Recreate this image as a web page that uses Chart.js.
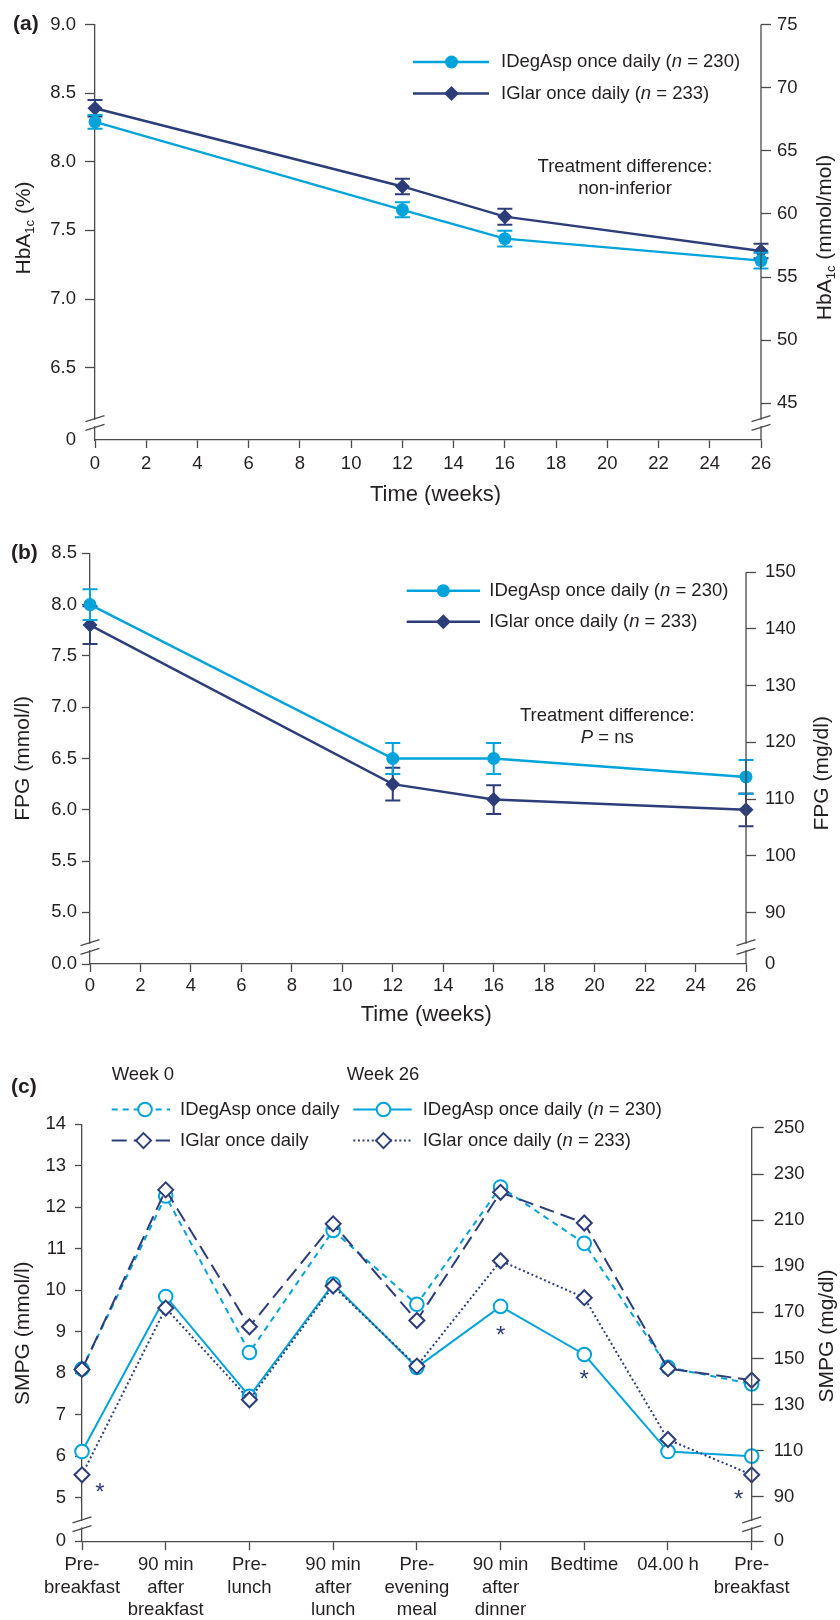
<!DOCTYPE html>
<html>
<head>
<meta charset="utf-8">
<script src="https://cdn.jsdelivr.net/npm/chart.js@4.4.1/dist/chart.umd.min.js"></script>
<style>
  html, body { margin: 0; padding: 0; background: #fff; }
  .panel { position: absolute; left: 0; width: 840px; }
</style>
</head>
<body>
<div class="panel" style="top:0;height:505px"><canvas id="chart-hba"></canvas></div>
<div class="panel" style="top:505px;height:530px"><canvas id="chart-fpg"></canvas></div>
<div class="panel" style="top:1035px;height:585px"><canvas id="chart-smpg"></canvas></div>
<script>
/* ==========================================
   DATA
   ========================================== */
const weeks = [0, 12, 16, 26];

// (a) HbA1c (%), mean and error bar half-length
const hbaIDegAsp   = [8.29, 7.65, 7.44, 7.28];
const hbaIDegAspSE = [0.05, 0.055, 0.058, 0.058];
const hbaIGlar     = [8.39, 7.82, 7.60, 7.35];
const hbaIGlarSE   = [0.06, 0.056, 0.058, 0.053];
const hbaTicks     = [6.5, 7.0, 7.5, 8.0, 8.5, 9.0];
const hbaMmolTicks = [45, 50, 55, 60, 65, 70, 75];

// (b) FPG (mmol/l)
const fpgIDegAsp   = [8.00, 6.50, 6.50, 6.32];
const fpgIDegAspSE = [0.15, 0.15, 0.15, 0.165];
const fpgIGlar     = [7.80, 6.25, 6.10, 6.00];
const fpgIGlarSE   = [0.185, 0.16, 0.14, 0.16];
const fpgTicks     = [5.0, 5.5, 6.0, 6.5, 7.0, 7.5, 8.0, 8.5];
const fpgMgTicks   = [90, 100, 110, 120, 130, 140, 150];

// (c) 9-point SMPG profile (mmol/l)
const smpgLabels = [
    ['Pre-', 'breakfast'], ['90 min', 'after', 'breakfast'], ['Pre-', 'lunch'],
    ['90 min', 'after', 'lunch'], ['Pre-', 'evening', 'meal'], ['90 min', 'after', 'dinner'],
    'Bedtime', '04.00 h', ['Pre-', 'breakfast']
];
const smpgIDegAspWk0  = [8.10, 12.27, 8.50, 11.44, 9.66, 12.49, 11.13, 8.14, 7.74];
const smpgIGlarWk0    = [8.09, 12.42, 9.12, 11.60, 9.27, 12.36, 11.62, 8.11, 7.83];
const smpgIDegAspWk26 = [6.11, 9.85, 7.44, 10.15, 8.14, 9.61, 8.45, 6.11, 6.00];
const smpgIGlarWk26   = [5.55, 9.57, 7.36, 10.10, 8.17, 10.71, 9.82, 6.40, 5.55];
const smpgTicks   = [5, 6, 7, 8, 9, 10, 11, 12, 13, 14];
const smpgMgTicks = [90, 110, 130, 150, 170, 190, 210, 230, 250];
// asterisks (significant differences at week 26)
const smpgStarIdx = [0, 5, 6, 8];
const smpgStarVal = [5.20, 8.99, 7.92, 5.02];

/* ==========================================
   STYLE
   ========================================== */
const FONT = '"Liberation Sans", Arial, Helvetica, sans-serif';
const TXT = '#231f20';
const AXIS = '#4a4a4a';
const CYAN = '#00a3da';
const NAVY = '#2c3d7a';

Chart.defaults.font.family = FONT;
Chart.defaults.color = TXT;

/* ==========================================
   HELPERS
   ========================================== */
function segFont(style, size) {
    if (style === 'sub') return (size * 0.62).toFixed(1) + 'px ' + FONT;
    if (style === 'i') return 'italic ' + size + 'px ' + FONT;
    if (style === 'b') return 'bold ' + size + 'px ' + FONT;
    return size + 'px ' + FONT;
}

// text made of pieces: [text, style]
function drawRich(ctx, x, y, segs, size, align, color) {
    ctx.save();
    ctx.fillStyle = color || TXT;
    ctx.textBaseline = 'middle';
    ctx.textAlign = 'left';
    let w = 0;
    segs.forEach(([t, s]) => { ctx.font = segFont(s, size); w += ctx.measureText(t).width; });
    let cx = align === 'center' ? x - w / 2 : x;
    segs.forEach(([t, s]) => {
        ctx.font = segFont(s, size);
        ctx.fillText(t, cx, s === 'sub' ? y + size * 0.3 : y);
        cx += ctx.measureText(t).width;
    });
    ctx.restore();
}

function drawRotated(ctx, x, y, segs, size) {
    ctx.save();
    ctx.translate(x, y);
    ctx.rotate(-Math.PI / 2);
    drawRich(ctx, 0, 0, segs, size, 'center');
    ctx.restore();
}

function drawMarker(ctx, x, y, shape, r, color, hollow) {
    ctx.beginPath();
    if (shape === 'circle') {
        ctx.arc(x, y, r, 0, Math.PI * 2);
    } else {
        ctx.moveTo(x, y - r); ctx.lineTo(x + r, y); ctx.lineTo(x, y + r); ctx.lineTo(x - r, y); ctx.closePath();
    }
    ctx.fillStyle = hollow ? '#fff' : color;
    ctx.fill();
    if (hollow) { ctx.lineWidth = 2; ctx.strokeStyle = color; ctx.setLineDash([]); ctx.stroke(); }
}

// axis break: two slanted strokes across the axis
function drawBreak(ctx, x, y) {
    ctx.save();
    ctx.fillStyle = '#fff';
    ctx.fillRect(x - 2.5, y - 3.2, 5, 6.4);
    ctx.strokeStyle = AXIS;
    ctx.lineWidth = 1.3;
    ctx.beginPath();
    ctx.moveTo(x - 9.5, y - 1.4); ctx.lineTo(x + 9.5, y - 7.4);
    ctx.moveTo(x - 9.5, y + 7.4); ctx.lineTo(x + 9.5, y + 1.4);
    ctx.stroke();
    ctx.restore();
}

function yScale(o) {
    return {
        type: 'linear',
        position: o.position || 'left',
        min: o.min,
        max: o.max,
        afterBuildTicks: s => { s.ticks = [o.min, ...o.ticks].map(v => ({ value: v })); },
        afterFit: s => { s.width = o.width; },
        ticks: {
            autoSkip: false, padding: o.pad, color: TXT, font: { size: 18.5 },
            callback: (v, i) => i === 0 ? o.zero : (o.dec ? v.toFixed(1) : String(v))
        },
        grid: {
            drawOnChartArea: false, tickLength: o.tick, tickWidth: 1.3,
            tickColor: c => (c.index === 0 && o.hideZeroTick) ? 'rgba(0,0,0,0)' : AXIS
        },
        border: { display: o.position !== 'right', color: AXIS, width: 1.3 }
    };
}

function xWeeks(o) {
    return {
        type: 'linear', min: 0, max: 26,
        afterFit: s => { s.height = o.height; },
        ticks: { stepSize: 2, autoSkip: false, maxRotation: 0, padding: o.pad, color: TXT, font: { size: 18.5 } },
        grid: { drawOnChartArea: false, tickLength: 8, tickWidth: 1.3, tickColor: AXIS },
        border: { color: AXIS, width: 1.3 }
    };
}

const pts = (xs, ys) => xs.map((x, i) => ({ x: x, y: ys[i] }));

// decorations: error bars, right axis line, breaks, titles, legend, notes
function decor(spec) {
    return {
        id: 'decor',
        beforeDatasetDraw(chart, args) {
            const ds = chart.data.datasets[args.index];
            if (!ds.se) return;
            const ctx = chart.ctx, ys = chart.scales.y;
            ctx.save();
            ctx.strokeStyle = ds.borderColor;
            ctx.lineWidth = 2;
            args.meta.data.forEach((pt, i) => {
                const v = ds.data[i].y, e = ds.se[i];
                const t = ys.getPixelForValue(v + e), b = ys.getPixelForValue(v - e);
                ctx.beginPath();
                ctx.moveTo(pt.x, t); ctx.lineTo(pt.x, b);
                ctx.moveTo(pt.x - 7.5, t); ctx.lineTo(pt.x + 7.5, t);
                ctx.moveTo(pt.x - 7.5, b); ctx.lineTo(pt.x + 7.5, b);
                ctx.stroke();
            });
            ctx.restore();
        },
        afterDraw(chart) {
            const ctx = chart.ctx, area = chart.chartArea;
            const y = chart.scales.y, y2 = chart.scales.y2, x = chart.scales.x;

            // right axis line starts at its top tick
            const topV = y2.ticks[y2.ticks.length - 1].value;
            ctx.save();
            ctx.strokeStyle = AXIS; ctx.lineWidth = 1.3;
            ctx.beginPath();
            ctx.moveTo(y2.left, y2.getPixelForValue(topV));
            ctx.lineTo(y2.left, area.bottom);
            ctx.stroke();
            ctx.restore();

            drawBreak(ctx, y.right, area.bottom - 17);
            drawBreak(ctx, y2.left, area.bottom - 17);

            // panel letter and axis titles
            drawRich(ctx, spec.letter[1], spec.letter[2], [[spec.letter[0], 'b']], 21, 'left');
            drawRotated(ctx, spec.yTitle.x, spec.yTitle.y, spec.yTitle.segs, 21);
            drawRotated(ctx, spec.y2Title.x, spec.y2Title.y, spec.y2Title.segs, 21);
            if (spec.xTitle) drawRich(ctx, spec.xTitle.x, spec.xTitle.y, [[spec.xTitle.text, '']], 22, 'center');

            // legend
            (spec.legend || []).forEach(it => {
                ctx.save();
                ctx.strokeStyle = it.color;
                ctx.lineWidth = it.lw;
                ctx.setLineDash(it.dash || []);
                ctx.beginPath();
                ctx.moveTo(it.x1, it.y); ctx.lineTo(it.x2, it.y);
                ctx.stroke();
                drawMarker(ctx, it.mx, it.y, it.shape, it.r, it.color, it.hollow);
                ctx.restore();
                drawRich(ctx, it.tx, it.y, it.segs, 18.5, 'left');
            });

            // free text
            (spec.notes || []).forEach(n => drawRich(ctx, n.x, n.y, n.segs, 18.5, n.align || 'center'));

            // asterisks
            if (spec.stars) {
                ctx.save();
                ctx.fillStyle = NAVY;
                ctx.font = '24px ' + FONT;
                ctx.textAlign = 'center';
                ctx.textBaseline = 'middle';
                spec.stars.idx.forEach((k, i) => {
                    ctx.fillText('*', x.getPixelForValue(k) + spec.stars.dx[i], y.getPixelForValue(spec.stars.val[i]) + 4);
                });
                ctx.restore();
            }
        }
    };
}

const baseOptions = (padTop) => ({
    responsive: true,
    maintainAspectRatio: false,
    animation: false,
    events: [],
    layout: { padding: { top: padTop, left: 0, right: 0, bottom: 0 } },
    plugins: { legend: { display: false }, tooltip: { enabled: false } }
});

const nSeg = (name, n) => [[name + ' once daily (', ''], ['n', 'i'], [' = ' + n + ')', '']];

/* ==========================================
   (a) HbA1c
   ========================================== */
new Chart(document.getElementById('chart-hba'), {
    type: 'line',
    data: {
        datasets: [
            { label: 'IDegAsp once daily (n = 230)', data: pts(weeks, hbaIDegAsp), se: hbaIDegAspSE,
              borderColor: CYAN, backgroundColor: CYAN, borderWidth: 2.4, tension: 0, clip: false,
              pointStyle: 'circle', pointRadius: 6.5, pointBorderWidth: 0 },
            { label: 'IGlar once daily (n = 233)', data: pts(weeks, hbaIGlar), se: hbaIGlarSE,
              borderColor: NAVY, backgroundColor: NAVY, borderWidth: 2.4, tension: 0, clip: false,
              pointStyle: 'rectRot', pointRadius: 7.5, pointBorderWidth: 0 }
        ]
    },
    options: Object.assign(baseOptions(24.5), {
        scales: {
            x: xWeeks({ height: 65, pad: 5 }),
            y: yScale({ min: 5.973, max: 9.0, ticks: hbaTicks, zero: '0', dec: true, width: 95, tick: 10, pad: 9, hideZeroTick: true }),
            y2: yScale({ position: 'right', min: 42.1, max: 75, ticks: hbaMmolTicks, zero: '', width: 79, tick: 10, pad: 6, hideZeroTick: true })
        }
    }),
    plugins: [decor({
        letter: ['(a)', 13, 24.3],
        yTitle: { x: 24, y: 228, segs: [['HbA', ''], ['1c', 'sub'], [' (%)', '']] },
        y2Title: { x: 825, y: 237.5, segs: [['HbA', ''], ['1c', 'sub'], [' (mmol/mol)', '']] },
        xTitle: { x: 435.5, y: 495, text: 'Time (weeks)' },
        legend: [
            { x1: 413, x2: 489, mx: 451.5, y: 62, color: CYAN, lw: 2.4, shape: 'circle', r: 6.5, tx: 501, segs: nSeg('IDegAsp', 230) },
            { x1: 413, x2: 489, mx: 451.5, y: 93.5, color: NAVY, lw: 2.4, shape: 'diamond', r: 7.5, tx: 501, segs: nSeg('IGlar', 233) }
        ],
        notes: [
            { x: 625, y: 166.7, segs: [['Treatment difference:', '']] },
            { x: 625, y: 189, segs: [['non-inferior', '']] }
        ]
    })]
});

/* ==========================================
   (b) FPG
   ========================================== */
new Chart(document.getElementById('chart-fpg'), {
    type: 'line',
    data: {
        datasets: [
            { label: 'IDegAsp once daily (n = 230)', data: pts(weeks, fpgIDegAsp), se: fpgIDegAspSE,
              borderColor: CYAN, backgroundColor: CYAN, borderWidth: 2.4, tension: 0, clip: false,
              pointStyle: 'circle', pointRadius: 6.5, pointBorderWidth: 0 },
            { label: 'IGlar once daily (n = 233)', data: pts(weeks, fpgIGlar), se: fpgIGlarSE,
              borderColor: NAVY, backgroundColor: NAVY, borderWidth: 2.4, tension: 0, clip: false,
              pointStyle: 'rectRot', pointRadius: 7.5, pointBorderWidth: 0 }
        ]
    },
    options: Object.assign(baseOptions(48.3), {
        scales: {
            x: xWeeks({ height: 71, pad: 3 }),
            y: yScale({ min: 4.497, max: 8.5, ticks: fpgTicks, zero: '0.0', dec: true, width: 90, tick: 8, pad: 5 }),
            y2: yScale({ position: 'right', min: 80.9, max: 153.35, ticks: fpgMgTicks, zero: '0', width: 94, tick: 10, pad: 9, hideZeroTick: true })
        }
    }),
    plugins: [decor({
        letter: ['(b)', 11, 48.3],
        yTitle: { x: 23, y: 253.3, segs: [['FPG (mmol/l)', '']] },
        y2Title: { x: 822, y: 268.3, segs: [['FPG (mg/dl)', '']] },
        xTitle: { x: 426.3, y: 510, text: 'Time (weeks)' },
        legend: [
            { x1: 406.7, x2: 480, mx: 443.3, y: 85.7, color: CYAN, lw: 2.4, shape: 'circle', r: 6.5, tx: 489.3, segs: nSeg('IDegAsp', 230) },
            { x1: 406.7, x2: 480, mx: 443.3, y: 116.7, color: NAVY, lw: 2.4, shape: 'diamond', r: 7.5, tx: 489.3, segs: nSeg('IGlar', 233) }
        ],
        notes: [
            { x: 607.3, y: 210.7, segs: [['Treatment difference:', '']] },
            { x: 607.3, y: 233.3, segs: [['P', 'i'], [' = ns', '']] }
        ]
    })]
});

/* ==========================================
   (c) 9-point SMPG
   ========================================== */
const hollow = (color, shape, r) => ({
    borderColor: color, backgroundColor: '#fff', borderWidth: 2, tension: 0, clip: false,
    pointStyle: shape, pointRadius: r, pointBorderWidth: 2, pointBackgroundColor: '#fff', pointBorderColor: color
});

new Chart(document.getElementById('chart-smpg'), {
    type: 'line',
    data: {
        labels: smpgLabels,
        datasets: [
            Object.assign({ label: 'IGlar week 26', data: smpgIGlarWk26, borderDash: [2, 2.6] }, hollow(NAVY, 'rectRot', 7.5)),
            Object.assign({ label: 'IGlar week 0', data: smpgIGlarWk0, borderDash: [15, 7] }, hollow(NAVY, 'rectRot', 7.5)),
            Object.assign({ label: 'IDegAsp week 26', data: smpgIDegAspWk26 }, hollow(CYAN, 'circle', 6.8)),
            Object.assign({ label: 'IDegAsp week 0', data: smpgIDegAspWk0, borderDash: [6, 5] }, hollow(CYAN, 'circle', 6.8))
        ]
    },
    options: Object.assign(baseOptions(89.3), {
        scales: {
            x: {
                type: 'category', offset: false,
                afterFit: s => { s.height = 78.8; },
                ticks: { autoSkip: false, maxRotation: 0, padding: 4, color: TXT, font: { size: 18.5, lineHeight: 1.2 } },
                grid: { drawOnChartArea: false, offset: false, tickLength: 9, tickWidth: 1.3, tickColor: AXIS },
                border: { color: AXIS, width: 1.3 }
            },
            y: yScale({ min: 3.949, max: 14, ticks: smpgTicks, zero: '0', width: 82, tick: 7, pad: 9 }),
            y2: yScale({ position: 'right', min: 70.74, max: 251.6, ticks: smpgMgTicks, zero: '0', width: 88.3, tick: 12, pad: 10 })
        }
    }),
    plugins: [decor({
        letter: ['(c)', 11, 52.3],
        yTitle: { x: 23, y: 298.2, segs: [['SMPG (mmol/l)', '']] },
        y2Title: { x: 827, y: 301, segs: [['SMPG (mg/dl)', '']] },
        legend: [
            { x1: 111.7, x2: 170, mx: 145, y: 74.5, color: CYAN, lw: 2, dash: [6, 5], shape: 'circle', r: 6.8, hollow: true, tx: 180, segs: [['IDegAsp once daily', '']] },
            { x1: 111.7, x2: 170, mx: 143.5, y: 105.6, color: NAVY, lw: 2, dash: [15, 7], shape: 'diamond', r: 7.5, hollow: true, tx: 180, segs: [['IGlar once daily', '']] },
            { x1: 353.3, x2: 411.7, mx: 383.5, y: 74.5, color: CYAN, lw: 2, shape: 'circle', r: 6.8, hollow: true, tx: 422.7, segs: nSeg('IDegAsp', 230) },
            { x1: 353.3, x2: 411.7, mx: 383.5, y: 105.6, color: NAVY, lw: 2, dash: [2, 2.6], shape: 'diamond', r: 7.5, hollow: true, tx: 422.7, segs: nSeg('IGlar', 233) }
        ],
        notes: [
            { x: 111.7, y: 40.1, align: 'left', segs: [['Week 0', '']] },
            { x: 346.7, y: 40.1, align: 'left', segs: [['Week 26', '']] }
        ],
        stars: { idx: smpgStarIdx, val: smpgStarVal, dx: [18, 0, 0, -13] }
    })]
});
</script>
</body>
</html>
